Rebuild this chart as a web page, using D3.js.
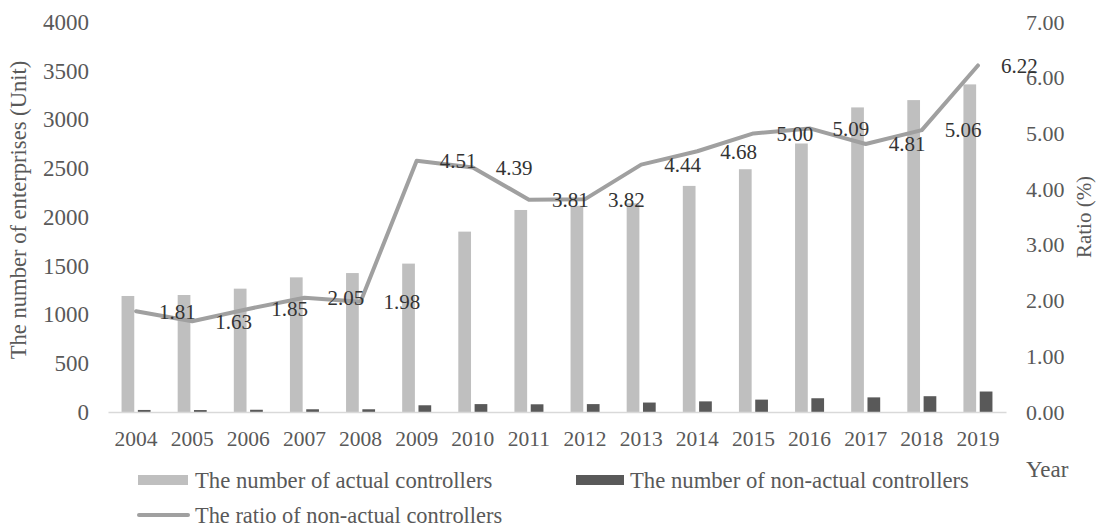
<!DOCTYPE html>
<html>
<head>
<meta charset="utf-8">
<script src="https://cdn.jsdelivr.net/npm/d3@7"></script>
<style>
  html, body { margin: 0; padding: 0; background: #fff; }
  svg { display: block; font-family: "Liberation Serif", "Times New Roman", serif; }
</style>
</head>
<body>
<svg id="chart" width="1111" height="527"></svg>
<script>
// Listed companies by controller type, 2004–2019
const years = ["2004","2005","2006","2007","2008","2009","2010","2011","2012","2013","2014","2015","2016","2017","2018","2019"];
const actualControllers = [1190, 1200, 1265, 1381, 1425, 1522, 1850, 2072, 2115, 2140, 2319, 2490, 2754, 3124, 3199, 3360];
const nonActualControllers = [21, 20, 23, 28, 28, 69, 81, 79, 81, 97, 109, 127, 141, 150, 162, 210];
const ratioNonActual = [1.81, 1.63, 1.85, 2.05, 1.98, 4.51, 4.39, 3.81, 3.82, 4.44, 4.68, 5.00, 5.09, 4.81, 5.06, 6.22];
const leftTicks = [0, 500, 1000, 1500, 2000, 2500, 3000, 3500, 4000];
const rightTicks = [0, 1, 2, 3, 4, 5, 6, 7];
const seriesNames = ["The number of actual controllers", "The number of non-actual controllers", "The ratio of non-actual controllers"];

const svg = d3.select("#chart");
const plot = { left: 108, right: 1006, top: 22, bottom: 412 };

const colActual = "#bfbfbf", colNon = "#595959", colLine = "#a0a0a0", colText = "#595959", colLabel = "#333333";

const x0 = d3.scaleBand().domain(years).range([plot.left, plot.right]).paddingInner(0.483).paddingOuter(0.2415);
const x1 = d3.scaleBand().domain(["actual", "non"]).range([0, x0.bandwidth()]).paddingInner(0.22);
const yL = d3.scaleLinear().domain([0, 4000]).range([plot.bottom, plot.top]);
const yR = d3.scaleLinear().domain([0, 7]).range([plot.bottom, plot.top]);

// Left axis
const gL = svg.append("g").attr("transform", `translate(89,0)`)
  .call(d3.axisLeft(yL).tickValues(leftTicks).tickSize(0).tickPadding(0).tickFormat(d3.format("d")));
gL.select(".domain").remove();
gL.selectAll("text").attr("fill", colText).style("font-size", "23px").style("font-family", "Liberation Serif");

// Right axis
const gR = svg.append("g").attr("transform", `translate(1026,0)`)
  .call(d3.axisRight(yR).tickValues(rightTicks).tickSize(0).tickPadding(0).tickFormat(d3.format(".2f")));
gR.select(".domain").remove();
gR.selectAll("text").attr("fill", colText).style("font-size", "22px").style("font-family", "Liberation Serif");

// Bars
const groups = svg.append("g").selectAll("g").data(years).join("g")
  .attr("transform", d => `translate(${x0(d)},0)`);
groups.append("rect")
  .attr("x", x1("actual")).attr("width", x1.bandwidth())
  .attr("y", (d, i) => yL(actualControllers[i]))
  .attr("height", (d, i) => yL(0) - yL(actualControllers[i]))
  .attr("fill", colActual);
groups.append("rect")
  .attr("x", x1("non")).attr("width", x1.bandwidth())
  .attr("y", (d, i) => yL(nonActualControllers[i]))
  .attr("height", (d, i) => yL(0) - yL(nonActualControllers[i]))
  .attr("fill", colNon);

// Category axis
const gX = svg.append("g").attr("transform", `translate(0,${plot.bottom})`)
  .call(d3.axisBottom(x0).tickSize(0).tickSizeOuter(0));
gX.select(".domain").attr("stroke", "#d9d9d9").attr("stroke-width", 1.3);
gX.selectAll("text").attr("fill", colText).attr("y", 26).attr("dy", "0.35em")
  .style("font-size", "21.5px").style("font-family", "Liberation Serif");

// Ratio line
const cx = d => x0(d) + x0.bandwidth() / 2;
const line = d3.line().x((d, i) => cx(years[i])).y(d => yR(d));
svg.append("path").datum(ratioNonActual)
  .attr("d", line).attr("fill", "none")
  .attr("stroke", colLine).attr("stroke-width", 4).attr("stroke-linejoin", "round").attr("stroke-linecap", "round");

// Ratio value labels (placed to the right of each point)
svg.append("g").selectAll("text").data(ratioNonActual).join("text")
  .attr("x", (d, i) => cx(years[i]) + 23)
  .attr("y", d => yR(d)).attr("dy", "0.35em")
  .attr("fill", colLabel).style("font-size", "21px")
  .text(d => d3.format(".2f")(d));

// Axis titles
svg.append("text").attr("transform", "translate(26,210) rotate(-90)")
  .attr("text-anchor", "middle").attr("fill", colText).style("font-size", "22.6px")
  .text("The number of enterprises (Unit)");
svg.append("text").attr("transform", "translate(1091,217) rotate(-90)")
  .attr("text-anchor", "middle").attr("fill", colText).style("font-size", "21px")
  .text("Ratio (%)");
svg.append("text").attr("x", 1026).attr("y", 469).attr("dy", "0.35em")
  .attr("fill", colText).style("font-size", "23px").text("Year");

// Legend
const lg = svg.append("g");
lg.append("rect").attr("x", 138).attr("y", 475).attr("width", 50).attr("height", 10).attr("fill", colActual);
lg.append("text").attr("x", 195).attr("y", 480).attr("dy", "0.35em").attr("fill", colText).style("font-size", "22.7px").text(seriesNames[0]);
lg.append("rect").attr("x", 576).attr("y", 475).attr("width", 48).attr("height", 10).attr("fill", colNon);
lg.append("text").attr("x", 630).attr("y", 480).attr("dy", "0.35em").attr("fill", colText).style("font-size", "22.7px").text(seriesNames[1]);
lg.append("line").attr("x1", 139).attr("x2", 188).attr("y1", 515).attr("y2", 515)
  .attr("stroke", colLine).attr("stroke-width", 4).attr("stroke-linecap", "round");
lg.append("text").attr("x", 195).attr("y", 515).attr("dy", "0.35em").attr("fill", colText).style("font-size", "22.4px").text(seriesNames[2]);
</script>
</body>
</html>
